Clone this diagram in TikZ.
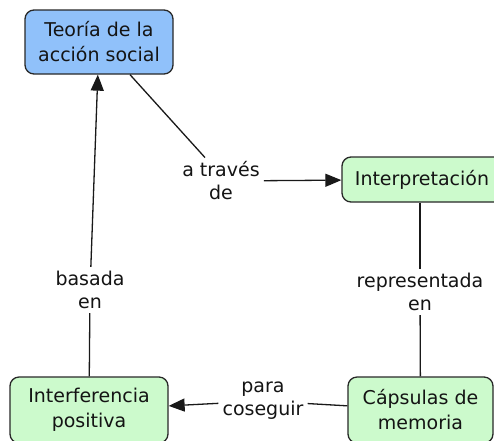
\documentclass[tikz,border=0pt]{standalone}
\usepackage{fontspec}
\setmainfont{DejaVu Sans}
\usetikzlibrary{arrows.meta}
\definecolor{bluefill}{RGB}{144,193,250}
\definecolor{greenfill}{RGB}{204,250,204}
\definecolor{edgegray}{RGB}{40,40,40}
\definecolor{txt}{RGB}{20,20,20}
\tikzset{
  concept/.style={draw=edgegray, line width=1.3pt, rounded corners=9pt, align=center,
    font=\fontsize{19}{25}\selectfont, text=txt, inner sep=0pt},
  linkl/.style={align=center, font=\fontsize{19}{23}\selectfont, text=txt, inner sep=4pt},
  conn/.style={draw=black!90, line width=1.3pt},
  arr/.style={conn, -{Triangle[length=16pt,width=13pt]}}
}
\begin{document}
\begin{tikzpicture}[x=1pt,y=-1pt]
\useasboundingbox (0,0) rectangle (494,440);
\clip (0,0) rectangle (494,440);
\fill[white] (0,0) rectangle (494,440);
\node[concept, fill=bluefill, minimum width=148pt, minimum height=64pt] (teoria) at (99,42) {Teoría de la\\acción social};
\node[concept, fill=greenfill, minimum width=172pt, minimum height=45pt] (interp) at (428,179.5) {\hspace*{-12pt}Interpretación};
\node[concept, fill=greenfill, minimum width=145pt, minimum height=66pt] (caps) at (420.5,410) {Cápsulas de\\memoria};
\node[concept, fill=greenfill, minimum width=158pt, minimum height=66pt] (interf) at (89,410) {Interferencia\\positiva};
\node[linkl] (atraves) at (221,181) {a través\\de};
\node[linkl] (repres) at (420,292) {representada\\en};
\node[linkl] (para) at (263,401) {para\\coseguir};
\node[linkl] (basada) at (90,290) {basada\\en};
\draw[conn] ([xshift=31pt]teoria.south) -- ([xshift=-16pt]atraves.north);
\draw[arr] (atraves) -- (interp);
\draw[conn] (interp.south -| repres) -- (repres);
\draw[conn] (repres) -- (caps);
\draw[conn] (caps) -- (para);
\draw[arr] (para) -- (interf);
\draw[conn] (interf) -- (basada);
\draw[arr] (basada) -- (teoria);
\end{tikzpicture}
\end{document}
